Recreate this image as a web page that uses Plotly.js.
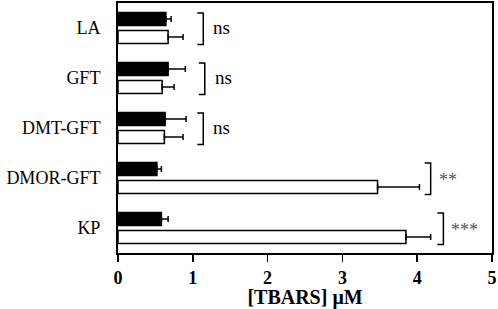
<!DOCTYPE html>
<html>
<head>
<meta charset="utf-8">
<script src="https://cdn.plot.ly/plotly-3.0.1.min.js"></script>
<style>
  html, body { margin: 0; padding: 0; background: #fff; }
  #chart { width: 498px; height: 309px; }
</style>
</head>
<body>
<div id="chart"></div>
<script>
// groups, top to bottom
var groups = ['LA', 'GFT', 'DMT-GFT', 'DMOR-GFT', 'KP'];

// black bars
var blackVals = [0.64, 0.67, 0.63, 0.52, 0.58];
var blackErr  = [0.07, 0.23, 0.28, 0.06, 0.09];

// white bars
var whiteVals = [0.67, 0.59, 0.62, 3.47, 3.85];
var whiteErr  = [0.20, 0.16, 0.25, 0.56, 0.33];

// significance labels and where the bracket sits (x, in uM)
var sigLabels = ['ns', 'ns', 'ns', '**', '***'];
var bracketX  = [1.06, 1.08, 1.06, 4.10, 4.27];

var serif = '"Liberation Serif", "Times New Roman", serif';

var trace1 = {
    type: 'bar',
    orientation: 'h',
    y: groups,
    x: blackVals,
    marker: { color: '#000', line: { color: '#000', width: 1.5 } },
    error_x: { type: 'data', array: blackErr, symmetric: false, arrayminus: blackErr.map(function(){ return 0; }),
               color: '#000', thickness: 1.5, width: 3 },
    showlegend: false,
    hoverinfo: 'x+y'
};

var trace2 = {
    type: 'bar',
    orientation: 'h',
    y: groups,
    x: whiteVals,
    marker: { color: '#fff', line: { color: '#000', width: 1.5 } },
    error_x: { type: 'data', array: whiteErr, symmetric: false, arrayminus: whiteErr.map(function(){ return 0; }),
               color: '#000', thickness: 1.5, width: 3 },
    showlegend: false,
    hoverinfo: 'x+y'
};

var data = [ trace1, trace2 ];

// brackets + labels
var shapes = [];
var annotations = [];
var bw = 0.08;   // bracket arm length
groups.forEach(function(g, i){
    var x0 = bracketX[i];
    var top = i - 0.3, bot = i + 0.33;
    shapes.push({
        type: 'path', xref: 'x', yref: 'y',
        path: 'M' + x0 + ',' + top + ' L' + (x0 + bw) + ',' + top +
              ' L' + (x0 + bw) + ',' + bot + ' L' + x0 + ',' + bot,
        line: { color: '#000', width: 1.5 }
    });
    annotations.push({
        x: x0 + bw, y: i, xref: 'x', yref: 'y',
        text: sigLabels[i], showarrow: false,
        xanchor: 'left', xshift: i < 3 ? 8 : 6, yshift: i < 3 ? 1 : -2,
        font: { family: serif, size: i < 3 ? 19 : 18, color: i < 3 ? '#000' : '#555' }
    });
});

var layout = {
    width: 498,
    height: 309,
    margin: { l: 118, r: 6, t: 3, b: 56 },
    paper_bgcolor: '#fff',
    plot_bgcolor: '#fff',
    barmode: 'group',
    bargap: 0.28,
    bargroupgap: 0.28,
    xaxis: {
        range: [0, 5],
        tickvals: [0, 1, 2, 3, 4, 5],
        ticks: 'outside',
        ticklen: 7,
        tickwidth: 1.5,
        tickcolor: '#000',
        showgrid: false,
        zeroline: false,
        showline: true,
        linewidth: 2,
        linecolor: '#000',
        mirror: true,
        tickfont: { family: serif, size: 18, color: '#000', weight: 'bold' },
        title: { text: '[TBARS] μM', font: { family: serif, size: 20, color: '#000', weight: 'bold' }, standoff: 7 }
    },
    yaxis: {
        type: 'category',
        categoryorder: 'array',
        categoryarray: groups,
        autorange: 'reversed',
        ticks: '',
        ticklabelstandoff: 12,
        showgrid: false,
        zeroline: false,
        showline: true,
        linewidth: 2,
        linecolor: '#000',
        mirror: true,
        tickfont: { family: serif, size: 18, color: '#000' }
    },
    shapes: shapes,
    annotations: annotations
};

Plotly.newPlot('chart', data, layout, { displayModeBar: false, staticPlot: true });
</script>
</body>
</html>
